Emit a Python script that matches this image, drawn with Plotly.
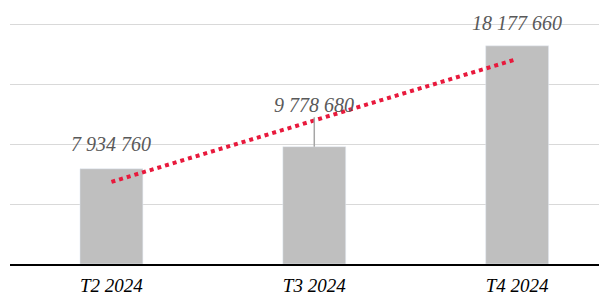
import numpy as np
import plotly.graph_objects as go

categories = ["T2 2024", "T3 2024", "T4 2024"]
values = [7934760, 9778680, 18177660]
value_labels = ["7 934 760", "9 778 680", "18 177 660"]

xi = np.arange(len(values))
slope, intercept = np.polyfit(xi, values, 1)
trend = slope * xi + intercept

SERIF = "Liberation Serif"

fig = go.Figure()
fig.add_trace(go.Bar(x=list(xi), y=values, marker_color="#BFBFBF", width=0.31,
                     hoverinfo="skip"))
fig.add_trace(go.Scatter(x=list(xi), y=trend, mode="lines",
                         line=dict(color="#E8193C", width=4, dash="dot"),
                         hoverinfo="skip"))

label_font = dict(family=SERIF, size=20, color="#595959", style="italic")
offsets = [-25, -42, -23]
for i, (v, lab) in enumerate(zip(values, value_labels)):
    if i == 1:
        fig.add_annotation(x=i, y=v, text="<i>" + lab + "</i>", showarrow=True, ax=0, ay=offsets[i],
                           arrowhead=0, arrowwidth=1.5, arrowcolor="#A6A6A6",
                           standoff=0, font=label_font)
    else:
        fig.add_annotation(x=i, y=v, text="<i>" + lab + "</i>", showarrow=False, yshift=-offsets[i],
                           font=label_font)

fig.update_layout(
    width=599, height=288,
    margin=dict(l=2, r=0, t=10, b=32, autoexpand=False),
    plot_bgcolor="white", paper_bgcolor="white",
    showlegend=False,
    xaxis=dict(range=[-0.5, 2.443], tickmode="array", tickvals=list(xi),
               ticktext=["<i>" + c + "</i>" for c in categories],
               showline=True, linecolor="black", linewidth=2,
               showgrid=False, zeroline=False, ticks="", ticklabelstandoff=3,
               tickfont=dict(family=SERIF, size=19, color="black", style="italic")),
    yaxis=dict(range=[0, 20.5e6], dtick=5e6, showticklabels=False, showgrid=True,
               gridcolor="#D9D9D9", gridwidth=1, zeroline=False),
)
fig.write_html("out.html")
